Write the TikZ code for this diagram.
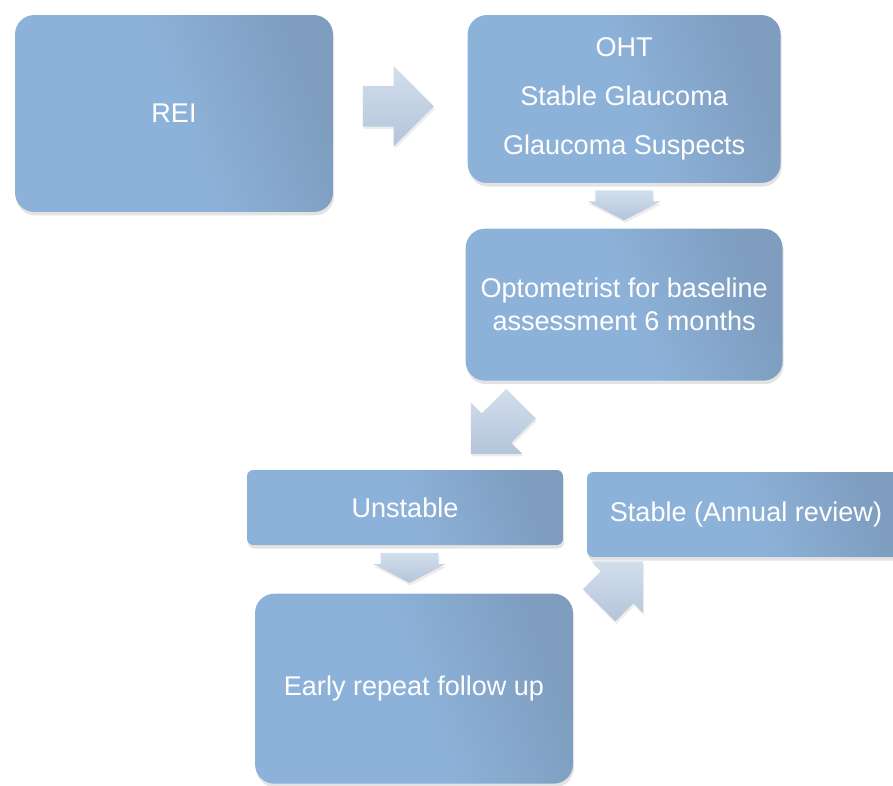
\documentclass[tikz,border=0pt]{standalone}
\usepackage{fontspec}
\setmainfont{Liberation Sans}
\usetikzlibrary{positioning, calc, shapes.arrows, shadows, backgrounds}
\definecolor{boxlight}{HTML}{8DB2D9}
\definecolor{boxdark}{HTML}{7E9DBF}
\definecolor{arrowlight}{HTML}{D3DEEC}
\definecolor{arrowdark}{HTML}{B3C5DA}

\begin{document}
\begin{tikzpicture}
        [
            x=0.02cm, y=-0.02cm,
            box/.style = {rectangle, rounded corners=11pt, inner sep=0pt, align=center, text=white,
                font=\fontsize{15.4}{18.8}\selectfont,
                left color=boxlight, right color=boxdark, middle color=boxlight, shading angle=110,
                drop shadow={opacity=0.22, shadow xshift=0.6pt, shadow yshift=-2pt}},
            flatbox/.style = {box, rounded corners=3.5pt},
            blockarrow/.style = {single arrow, inner xsep=0pt, top color=arrowlight, bottom color=arrowdark,
                drop shadow={opacity=0.15, shadow xshift=0.6pt, shadow yshift=-1.5pt}}
        ]%
        \useasboundingbox (0,0) rectangle (893,785);
        \node[box, minimum width=6.36cm, minimum height=3.94cm] (rei) at (174,113.5) {REI};
        \node[box, minimum width=6.26cm, minimum height=3.36cm, right=2.68cm of rei.north east, anchor=north west] (oht)
            {OHT\\[9.1pt]Stable Glaucoma\\[9.1pt]Glaucoma Suspects};
        \node[box, minimum width=6.34cm, minimum height=3.04cm, below=0.9cm of oht] (optom)
            {Optometrist for baseline\\assessment 6 months};
        \node[flatbox, minimum width=6.32cm, minimum height=1.5cm] (unstable) at (405,507.5) {Unstable};
        \node[flatbox, minimum width=6.36cm, minimum height=1.7cm] (stable) at (746,514.5) {Stable (Annual review)};
        \node[box, minimum width=6.36cm, minimum height=3.8cm, below=0.96cm of unstable, xshift=0.18cm] (early)
            {Early repeat follow up};
        \begin{scope}[on background layer]
        \node[blockarrow, minimum height=1.42cm, inner ysep=0.4cm, single arrow head extend=0.4cm]
            (reitooht) at ($(rei.east)!0.5!(oht.west)+(-12,0)$) {};
        \node[blockarrow, rotate=-90, minimum height=0.6cm, inner ysep=0.57cm, single arrow head extend=0.15cm,
            single arrow tip angle=125] (ohttooptom) at ($(oht.south)!0.5!(optom.north)+(0,-8)$) {};
        \node[blockarrow, rotate=225, minimum height=1.42cm, inner ysep=0.41cm, single arrow head extend=0.31cm]
            (optomtounstable) at ($(optom.south west)!0.5!(unstable.north east)+(-11,-4)$) {};
        \node[blockarrow, rotate=-90, minimum height=0.6cm, inner ysep=0.57cm, single arrow head extend=0.14cm,
            single arrow tip angle=125] (unstabletoearly) at ($(unstable.south)!0.5!(early.north)+(0,-9)$) {};
        \node[blockarrow, rotate=45, minimum height=1.24cm, inner ysep=0.45cm, single arrow head extend=0.27cm]
            (earlytostable) at ($(early.north east)!0.5!(stable.south west)+(33,16)$) {};
        \end{scope}
\end{tikzpicture}
\end{document}
